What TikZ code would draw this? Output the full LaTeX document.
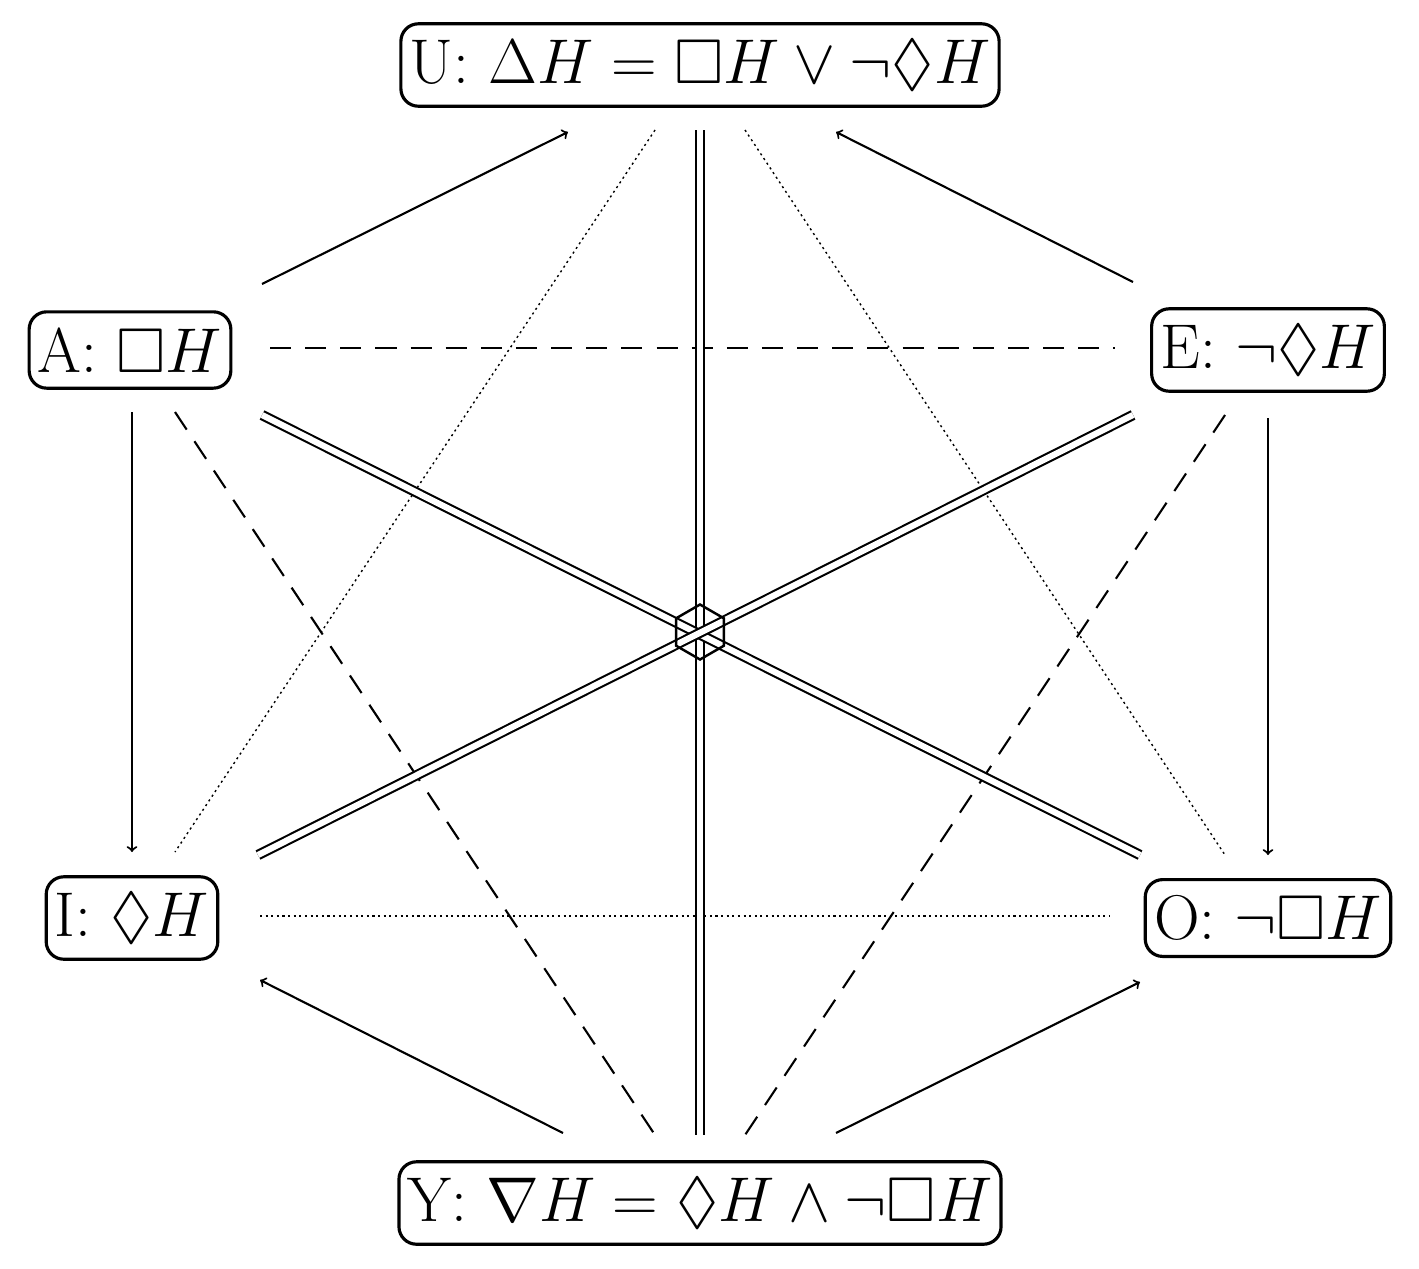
\RequirePackage{fix-cm}
\documentclass[tikz,border=0pt]{standalone}
\usepackage{amssymb}
\usetikzlibrary{shapes.geometric}
\DeclareMathSizes{36}{36}{25}{18}
\begin{document}
\begin{tikzpicture}[x=0.02cm,y=-0.02cm,
  lbl/.style={draw,line width=1.8pt,rounded corners=10pt,inner xsep=5pt,inner ysep=9pt,font=\fontsize{36}{40}\selectfont},
  ln/.style={line width=1.2pt},
  arr/.style={ln,->},
  dd/.style={ln,double,double distance=3.5pt}]
\useasboundingbox (0,0) rectangle (1419,1268);
\node[lbl] (U) at (700,65) {U: $\Delta H=\Box H\vee\neg\Diamond H$};
\node[lbl] (A) at (130,350) {A: $\Box H$};
\node[lbl] (E) at (1268,350) {E: $\neg\Diamond H$};
\node[lbl] (I) at (132,918) {I: $\Diamond H$};
\node[lbl] (O) at (1268,918) {O: $\neg\Box H$};
\node[lbl] (Y) at (700,1203) {Y: $\nabla H=\Diamond H\wedge\neg\Box H$};
\foreach \n/\x/\y in {au1/262/284,au2/568/132,eu1/1133/282,eu2/836/132,ai1/132/412,ai2/132/852,
 eo1/1268/418,eo2/1268/855,yi1/563/1133,yi2/260/980,yo1/836/1133,yo2/1140/982,
 ae1/270/348,ae2/1115/348,io1/260/916,io2/1110/916,ay1/175/412,ay2/655/1135,
 ey1/1225/415,ey2/745/1135,ui1/655/130,ui2/175/852,uo1/745/130,uo2/1225/855,
 uy1/700/130,uy2/700/1135,ao1/262/415,ao2/1140/855,ei1/1133/415,ei2/258/855}
 \coordinate (\n) at (\x,\y);
\draw[arr] (au1)--(au2);
\draw[arr] (eu1)--(eu2);
\draw[arr] (ai1)--(ai2);
\draw[arr] (eo1)--(eo2);
\draw[arr] (yi1)--(yi2);
\draw[arr] (yo1)--(yo2);
\draw[ln,dash pattern=on 12pt off 8pt] (ae1)--(ae2);
\draw[ln,dash pattern=on 12pt off 8pt] (ay1)--(ay2);
\draw[ln,dash pattern=on 12pt off 8pt] (ey1)--(ey2);
\draw[ln,dotted] (io1)--(io2);
\draw[ln,dotted,line width=0.8pt] (ui1)--(ui2);
\draw[ln,dotted,line width=0.8pt] (uo1)--(uo2);
\draw[dd] (uy1)--(uy2);
\draw[dd] (ao1)--(ao2);
\draw[dd] (ei1)--(ei2);
\node[draw,line width=1.4pt,regular polygon,regular polygon sides=6,shape border rotate=30,minimum size=1.1cm,inner sep=0pt] (C) at (700,632) {};
\end{tikzpicture}
\end{document}
